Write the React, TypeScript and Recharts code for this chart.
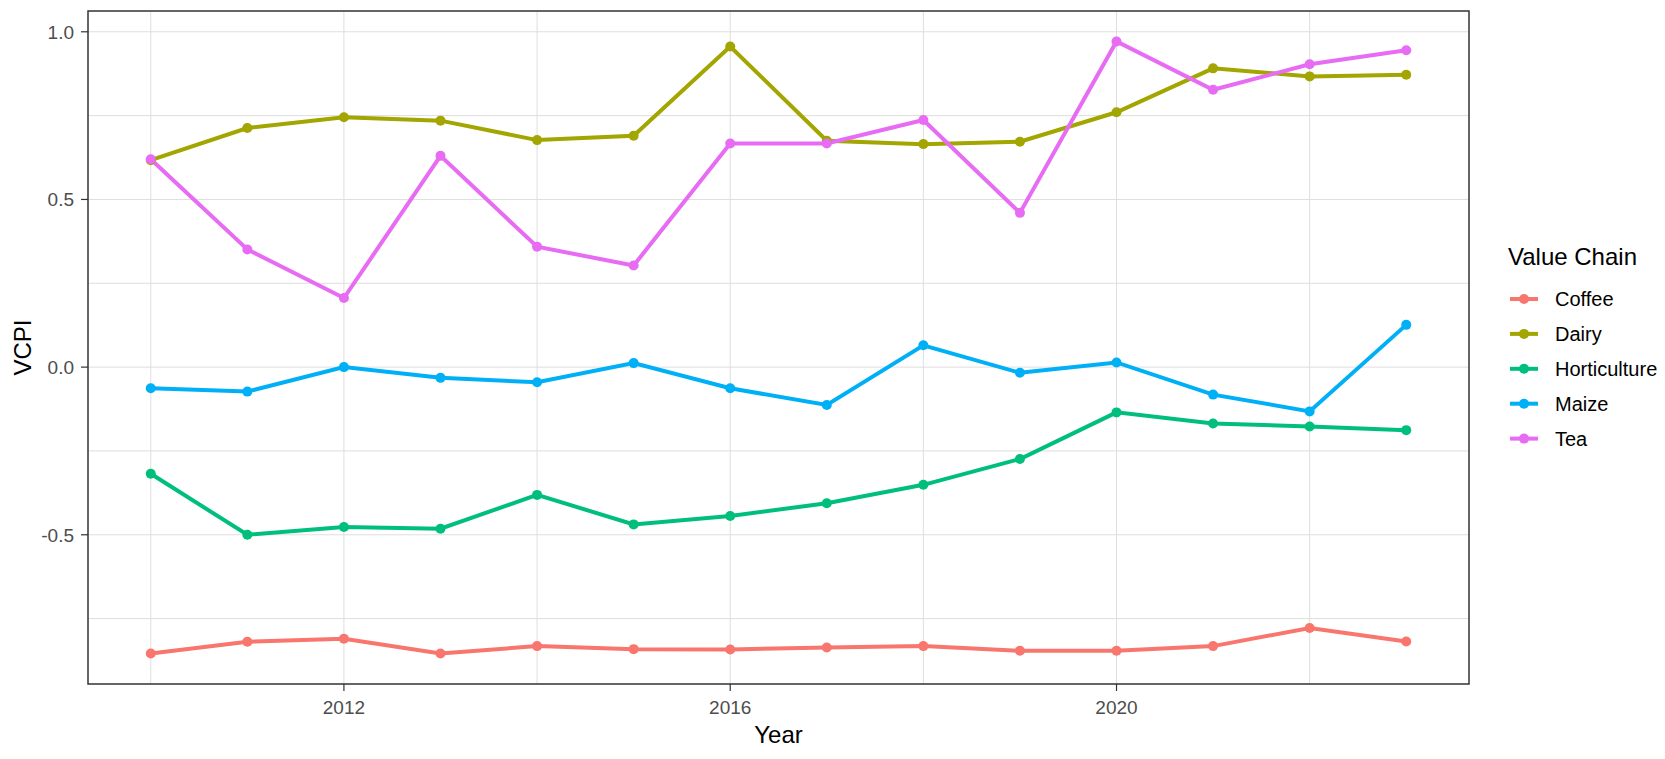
import React from "react";
import {
  LineChart,
  Line,
  XAxis,
  YAxis,
  CartesianGrid,
  ReferenceArea,
  Legend,
  Label,
} from "recharts";

const years = [2010, 2011, 2012, 2013, 2014, 2015, 2016, 2017, 2018, 2019, 2020, 2021, 2022, 2023];

const coffee = [-0.854, -0.819, -0.81, -0.854, -0.832, -0.841, -0.842, -0.836, -0.832, -0.846, -0.846, -0.832, -0.778, -0.818];
const dairy = [0.617, 0.713, 0.745, 0.735, 0.677, 0.69, 0.956, 0.675, 0.665, 0.672, 0.76, 0.891, 0.867, 0.872];
const horticulture = [-0.318, -0.5, -0.477, -0.482, -0.381, -0.469, -0.444, -0.406, -0.351, -0.274, -0.135, -0.168, -0.177, -0.188];
const maize = [-0.063, -0.073, 0.0, -0.032, -0.045, 0.012, -0.063, -0.113, 0.065, -0.017, 0.014, -0.082, -0.132, 0.126];
const tea = [0.62, 0.351, 0.206, 0.63, 0.359, 0.303, 0.667, 0.667, 0.737, 0.46, 0.971, 0.827, 0.903, 0.945];

const xTicks = [2012, 2016, 2020];
const xGrid = [2010, 2012, 2014, 2016, 2018, 2020, 2022];
const yTicks = [-0.5, 0, 0.5, 1.0];
const yGrid = [-0.75, -0.5, -0.25, 0, 0.25, 0.5, 0.75, 1.0];

const series = [
  { key: "Coffee", values: coffee, color: "#F8766D" },
  { key: "Dairy", values: dairy, color: "#A3A500" },
  { key: "Horticulture", values: horticulture, color: "#00BF7D" },
  { key: "Maize", values: maize, color: "#00B0F6" },
  { key: "Tea", values: tea, color: "#E76BF3" },
];

const data = years.map((year, i) => {
  const row: Record<string, number> = { year };
  series.forEach((s) => {
    row[s.key] = s.values[i];
  });
  return row;
});

const FONT = '"Liberation Sans", Arial, sans-serif';
const X_DOMAIN = [2009.35, 2023.65];
const Y_DOMAIN = [-0.945, 1.062];
const LINE_W = 4;
const DOT_R = 5;

const YTitle = ({ viewBox }: any) => {
  const cx = viewBox.x + 22;
  const cy = viewBox.y + viewBox.height / 2;
  return (
    <text
      x={cx}
      y={cy}
      transform={`rotate(-90, ${cx}, ${cy})`}
      textAnchor="middle"
      dominantBaseline="central"
      fontSize={24}
      fontFamily={FONT}
      fill="#000"
    >
      VCPI
    </text>
  );
};

const XTitle = ({ viewBox }: any) => (
  <text
    x={viewBox.x + viewBox.width / 2}
    y={743}
    textAnchor="middle"
    fontSize={24}
    fontFamily={FONT}
    fill="#000"
  >
    Year
  </text>
);

const LegendBox = () => (
  <svg width={160} height={230} style={{ display: "block" }}>
    <text x={3} y={35} fontSize={24} fontFamily={FONT} fill="#000">
      Value Chain
    </text>
    {series.map((s, i) => {
      const cy = 69 + i * 34.9;
      return (
        <g key={s.key}>
          <line x1={5} x2={33} y1={cy} y2={cy} stroke={s.color} strokeWidth={LINE_W} />
          <circle cx={19} cy={cy} r={DOT_R} fill={s.color} />
          <text x={50} y={cy} dominantBaseline="central" fontSize={20} fontFamily={FONT} fill="#000">
            {s.key}
          </text>
        </g>
      );
    })}
  </svg>
);

export default function App() {
  return (
    <div style={{ position: "absolute", left: 0, top: 0 }}>
      <LineChart
        width={1665}
        height={759}
        data={data}
        margin={{ top: 11, right: 196, bottom: 0, left: 0 }}
      >
        <CartesianGrid
          stroke="#dedede"
          strokeWidth={1}
          horizontalValues={yGrid}
          verticalValues={xGrid}
        />
        <XAxis
          dataKey="year"
          type="number"
          domain={X_DOMAIN}
          ticks={xTicks}
          height={75}
          axisLine={false}
          tickLine={{ stroke: "#333333", strokeWidth: 1.2 }}
          tickSize={7}
          tickMargin={10}
          tick={{ fontSize: 19, fill: "#4d4d4d", fontFamily: FONT }}
        >
          <Label content={<XTitle />} />
        </XAxis>
        <YAxis
          type="number"
          domain={Y_DOMAIN}
          ticks={yTicks}
          width={88}
          axisLine={false}
          tickLine={{ stroke: "#333333", strokeWidth: 1.2 }}
          tickSize={7}
          tickMargin={7}
          tickFormatter={(v: number) => v.toFixed(1)}
          tick={{ fontSize: 19, fill: "#4d4d4d", fontFamily: FONT }}
        >
          <Label content={<YTitle />} />
        </YAxis>
        {series.map((s) => (
          <Line
            key={s.key}
            dataKey={s.key}
            stroke={s.color}
            strokeWidth={LINE_W}
            dot={{ r: DOT_R, fill: s.color, stroke: "none" }}
            activeDot={false}
            isAnimationActive={false}
          />
        ))}
        <ReferenceArea
          x1={X_DOMAIN[0]}
          x2={X_DOMAIN[1]}
          y1={Y_DOMAIN[0]}
          y2={Y_DOMAIN[1]}
          fill="none"
          fillOpacity={0}
          stroke="#333333"
          strokeWidth={1.5}
        />
        <Legend
          layout="vertical"
          align="center"
          verticalAlign="middle"
          content={<LegendBox />}
          wrapperStyle={{ position: "absolute", left: 1505, top: 230, width: 160 }}
        />
      </LineChart>
    </div>
  );
}
